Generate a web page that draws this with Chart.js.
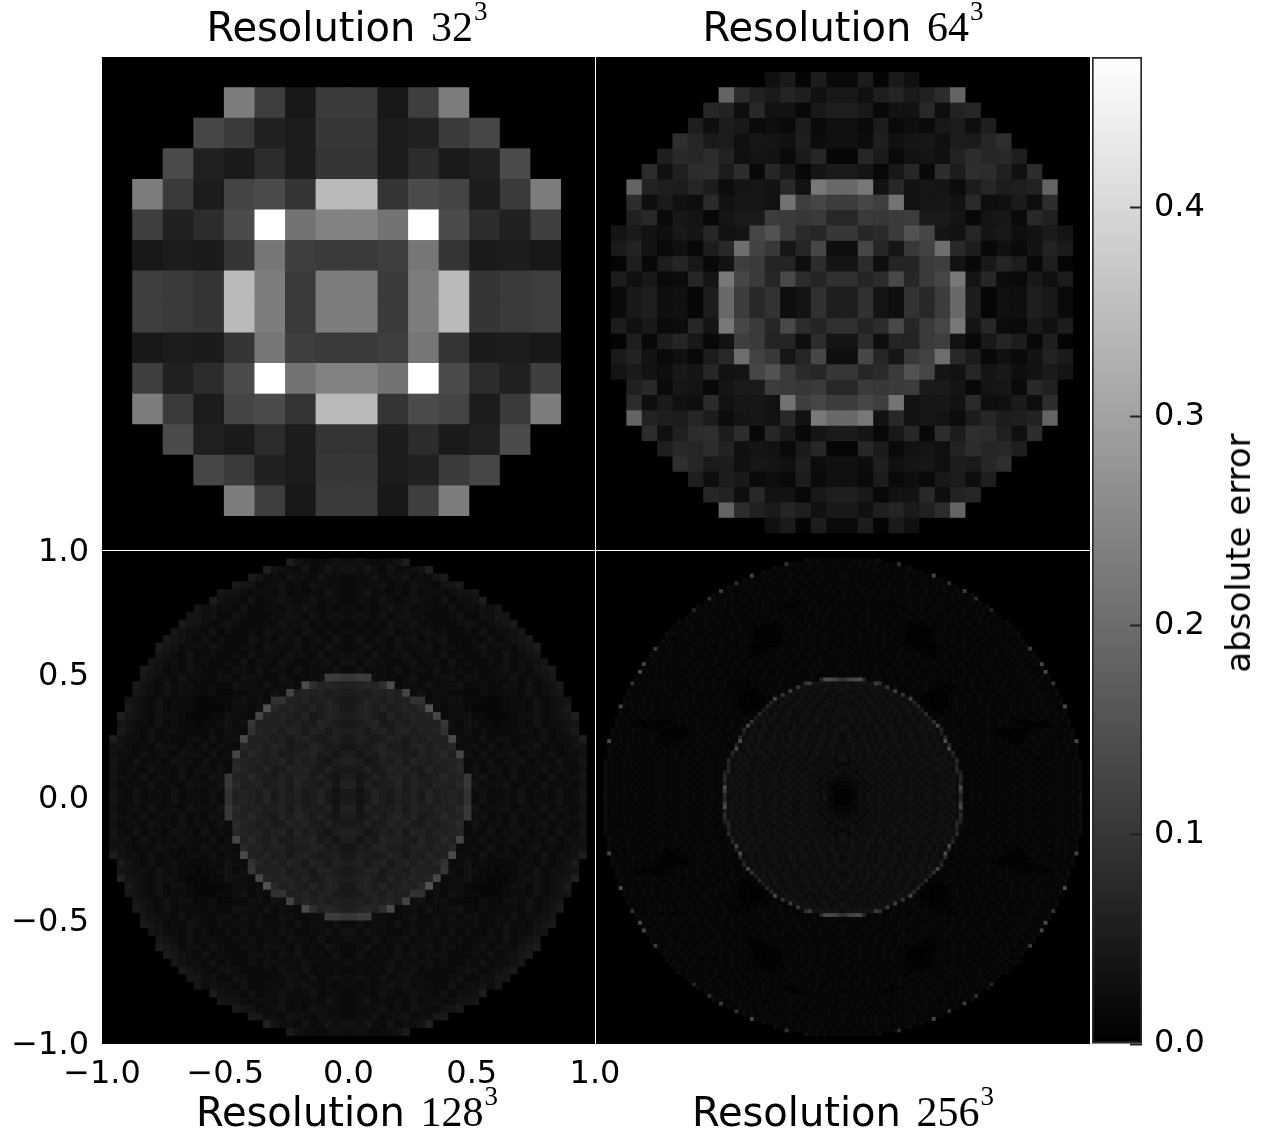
<!DOCTYPE html>
<html>
<head>
<meta charset="utf-8">
<title>Absolute error by resolution</title>
<script src="https://cdn.jsdelivr.net/npm/chart.js@4"></script>
<style>
html, body { margin: 0; padding: 0; background: #fff; }
#figure { position: relative; width: 1263px; height: 1138px; overflow: hidden; filter: blur(0.6px); }
#figure canvas { position: absolute; }
.res { position: absolute; transform: translateX(-50%); font: 40px/1 "DejaVu Sans"; white-space: nowrap; color: #000; }
.res .num { font-family: "Liberation Serif"; font-size: 42px; margin-left: 3px; }
.res sup { font: 27px/1 "Liberation Serif"; position: relative; top: -7px; vertical-align: super; margin-left: 1px; }
#barLabel { position: absolute; left: 1238px; top: 553px; transform: translate(-50%, -50%) rotate(-90deg); font: 34px/1 "DejaVu Sans"; white-space: nowrap; }
</style>
</head>
<body>
<div id="figure">
  <canvas id="panel32" width="493" height="493" style="left:102px;top:57px"></canvas>
  <canvas id="panel64" width="494" height="493" style="left:596px;top:57px"></canvas>
  <canvas id="panel128" width="640" height="618" style="left:0;top:520px"></canvas>
  <canvas id="panel256" width="494" height="493" style="left:596px;top:551px"></canvas>
  <canvas id="colorbar" width="171" height="1020" style="left:1092px;top:40px"></canvas>
  <div class="res" style="left:347px;top:5px">Resolution <span class="num">32</span><sup>3</sup></div>
  <div class="res" style="left:843px;top:5px">Resolution <span class="num">64</span><sup>3</sup></div>
  <div class="res" style="left:347px;top:1090px">Resolution <span class="num">128</span><sup>3</sup></div>
  <div class="res" style="left:843px;top:1090px">Resolution <span class="num">256</span><sup>3</sup></div>
  <div id="barLabel">absolute error</div>
</div>
<script>
// colour scale
const errorMax = 0.472;
const barTicks = [0, 0.1, 0.2, 0.3, 0.4];
const axisTicks = [-1, -0.5, 0, 0.5, 1];

// Grey levels, top left quadrant only (the images mirror both ways).
const res32Grey = [
    [0, 0, 0, 0, 0, 0, 0, 0],
    [0, 0, 0, 0, 125, 62, 24, 58],
    [0, 0, 0, 70, 58, 33, 28, 55],
    [0, 0, 75, 32, 26, 44, 28, 52],
    [0, 125, 58, 28, 68, 75, 52, 185],
    [0, 62, 33, 44, 75, 255, 115, 130],
    [0, 24, 28, 27, 52, 118, 62, 58],
    [0, 62, 58, 52, 185, 125, 58, 125]
];

const res64Grey = [
    [0, 0, 0, 0, 0, 0, 0, 0, 0, 0, 0, 0, 0, 0, 0, 0],
    [0, 0, 0, 0, 0, 0, 0, 0, 0, 0, 0, 16, 26, 5, 28, 10],
    [0, 0, 0, 0, 0, 0, 0, 0, 100, 44, 32, 26, 36, 30, 16, 24],
    [0, 0, 0, 0, 0, 0, 0, 38, 34, 14, 40, 18, 18, 8, 24, 30],
    [0, 0, 0, 0, 0, 0, 30, 14, 28, 24, 10, 14, 10, 28, 10, 16],
    [0, 0, 0, 0, 0, 46, 38, 26, 28, 16, 22, 20, 16, 30, 12, 16],
    [0, 0, 0, 0, 30, 40, 38, 44, 34, 16, 20, 18, 10, 26, 38, 6],
    [0, 0, 0, 44, 16, 32, 44, 46, 28, 44, 8, 38, 24, 8, 20, 26],
    [0, 0, 100, 34, 30, 28, 38, 28, 12, 20, 22, 18, 40, 18, 120, 105],
    [0, 0, 44, 14, 26, 16, 14, 42, 18, 22, 22, 18, 115, 62, 70, 60],
    [0, 0, 32, 40, 10, 22, 20, 8, 20, 26, 26, 60, 58, 55, 58, 40],
    [0, 20, 26, 18, 14, 24, 20, 38, 18, 20, 70, 82, 58, 42, 38, 55],
    [0, 26, 34, 18, 10, 16, 8, 28, 40, 110, 66, 56, 22, 38, 70, 14],
    [0, 5, 30, 8, 28, 36, 24, 8, 18, 62, 58, 36, 36, 14, 44, 20],
    [0, 28, 16, 24, 10, 12, 38, 20, 120, 70, 58, 38, 72, 44, 36, 48],
    [0, 10, 24, 30, 14, 16, 6, 28, 105, 60, 40, 50, 14, 20, 48, 30]
];

// Finer images: one base-36 digit per cell, rows run from the disc edge to the centre line.
const res128Levels = [
    "",
    "85433454",
    "95443534645",
    "7644354435443",
    "765344534354443",
    "65543443534343543",
    "854435344543453443",
    "64544353344354543434",
    "664533543334454353444",
    "7654345433343544534343",
    "65443534334354443543434",
    "765435343335443545344353",
    "8653443543344354435343543",
    "6543534433435344354435344",
    "65443534334353443543344535",
    "765343543343443534435344353",
    "654435343344354433543344hhf",
    "7543534433433544353443ldaba9",
    "65435344334223344354j9a9a898",
    "6543534432223345343ee99a89a87",
    "754353443222234434nb9a98a8a97",
    "965435443222335443ka9a98a78a98",
    "65443534332334534f999a8987a987",
    "75435344333343543ea9a8a97a9798",
    "85443534334435344l99a8979a87897",
    "55434354434353443b9a8a9788a9786",
    "5443534435443534k9b98a7899a7868",
    "6435344354435343ba9a89a7a897689",
    "5344354435344353ca98a78a9a87977",
    "644353443534354ga9b987a8a979768",
    "534435344354435gb99a89a7a887969",
    "643534435344353e9a98a7a8978a757"
];

const res256Levels = [
    "", "",
    "5323232323",
    "g323223232 32322",
    "4323223233 22322232",
    "4232322323 2232232322 3",
    "n232232322 3223223232 2323",
    "3232232323 2232232322 323223",
    "g232322322 3223232232 23223232",
    "3223232232 3223223232 2322323223",
    "k232232322 3223232232 2322322323 22",
    "4232232322 3232232322 3223223232 2323",
    "g322323223 2232322322 3223232232 23223",
    "3232232322 3223232232 2321122232 232232",
    "4232232322 3223222322 2321112223 23223232",
    "c232322322 3223223232 2322322322 323223223",
    "3223232232 2323223222 3222322322 3223232232",
    "3232232322 3223222322 3223223232 2322323223 2",
    "4232232322 3223232232 2322312223 2223223232 232",
    "3223232232 2322322322 2221111222 3223232232 2322",
    "3232232322 3223223232 2211111122 3223223232 23223",
    "4232232322 3223222322 3221110111 2232232232 232232",
    "3223232232 2322322322 3221101111 2223232232 232322",
    "4232232322 3223232232 2322110111 1222323223 2232232",
    "3232232322 3223223232 2322110111 1222322322 32232322",
    "k322323223 2232322322 3223211111 2223223232 232232232",
    "3232232322 3223223232 2322321112 2223232232 2322322323",
    "4223232232 2322322322 3223221222 3223232232 2322322232",
    "3232232322 3223223232 2322322322 3223232232 2322322322 3",
    "n232232322 3223232232 2322322322 3223223232 2322323223 23",
    "3223232232 2322322322 3223232232 2322322322 3223223232 23",
    "p232232322 3223232232 2322322322 3223223232 2322323223 232",
    "3232232322 3223232232 2232232322 3223223232 2322323223 2322",
    "3223232232 2322322322 3223222322 3223232232 23223232 cppnmg",
    "h232232322 3223232232 2322322122 1223232232 23223 gk76767565",
    "3232232322 3223223232 2322321112 2223223232 232 i65656465565",
    "4232232322 3223232232 2322322322 1111222322 32 k5656454565446",
    "3223232232 2322322322 3223222221 1101122232 h656454654654654",
    "3232232322 3223223232 2322322322 111011122 n64654564546545645",
    "4232232322 3223232232 2322322322 11101112 c6465456454654 56454",
    "p323223232 2322322322 3223223232 21110112 c646545645 4654564546",
    "3223232232 2322322322 3223223232 2211122 9646545645 4654564546 5",
    "4232232322 3223232232 2322322322 321222 e564654564 5465456454 65",
    "3232232322 3223223232 2322322322 322322 9564654564 5465456454 654",
    "4223221122 1111223232 2322322322 32232 g656465456 4546545645 4654",
    "3223211111 1112223232 2322322322 3223 n564654564 5465456454 65456",
    "3232232322 2111101111 2232322322 3223 c456465456 4546545645 465456",
    "4223232232 2321110111 2223223232 2322 9564654564 5465456454 654564",
    "3232232322 3211101112 2232322322 322 e456465456 4546545645 4654564",
    "n223232232 2322111122 3223223232 2322 p456465456 4546545645 4654564",
    "3232232322 3223212223 2232322322 322 c456465456 4546545645 46545645",
    "4223232232 2322322322 3223223232 232 n456465456 4546545645 46545644",
    "3232232322 3223232232 2322322322 32 c564564654 5645465456 456454645",
    "4223232232 2322322322 3223223232 23 9456465456 4546545645 465454646",
    "3232232322 3223232232 2322322322 32 e456465456 4546545645 4654546436",
    "4223232232 2322322322 3223223232 23 9564654564 5465456454 6545454543",
    "3232232322 3223232232 2322322322 32 c456465456 4546545645 4654544635",
    "4223232232 2322322322 3223223232 2 9c46465456 4546545645 4654546346 4",
    "3232232322 3223232232 2322322322 3 c564654564 5465456454 6545463544 4",
    "4223232232 2322322322 3223223232 2 e456465456 4546545645 4654636443 3",
    "3232232322 3223232232 2322322322 3 9564654564 5465456454 6546354332 2",
    "4223232232 2322322322 3223223232 2 p456465456 4546545645 4654635322 2",
    "3232232322 3223232232 2322322322 3 k564654564 5465456454 6546354321 1",
    "5223232232 2322322322 3223223232 2 c456465456 4546545645 4654636321 1"
];

function levelsToGrey(rows, half, greyPerDigit) {
    return rows.map(function (row) {
        const digits = row.replace(/\s/g, '').padStart(half, '0').slice(-half);
        return Array.from(digits, function (d) { return parseInt(d, 36) * greyPerDigit; });
    });
}

// the images stop one sample short of the right/bottom edge: span is a little under 2
function imageSpan(half) {
    return 2 - 1 / (8 * half);
}

// mirror the quadrant into x/y cells with the value as absolute error
function makeCells(quadrant) {
    const half = quadrant.length;
    const cellSize = imageSpan(half) / (2 * half);
    const last = 2 * half - 1;
    const cells = [];
    quadrant.forEach(function (row, r) {
        row.forEach(function (grey, c) {
            if (!grey) return;
            const v = grey / 255 * errorMax;
            [c, last - c].forEach(function (col) {
                [r, last - r].forEach(function (line) {
                    cells.push({ x: -1 + (col + 0.5) * cellSize, y: 1 - (line + 0.5) * cellSize, v: v });
                });
            });
        });
    });
    return cells;
}

function tickText(v) {
    return (v < 0 ? '\u2212' : '') + Math.abs(v).toFixed(1);
}

const blackArea = {
    id: 'blackArea',
    beforeDatasetsDraw: function (chart) {
        const a = chart.chartArea;
        chart.ctx.save();
        chart.ctx.fillStyle = '#000';
        chart.ctx.fillRect(a.left, a.top, a.right - a.left, a.bottom - a.top);
        chart.ctx.restore();
    }
};

function makePanel(id, quadrant, withAxes) {
    const half = quadrant.length;
    const tickFont = { family: 'DejaVu Sans', size: 32 };
    return new Chart(document.getElementById(id), {
        type: 'scatter',
        data: {
            datasets: [{
                data: makeCells(quadrant),
                pointStyle: 'rect',
                borderWidth: 0,
                pointBorderWidth: 0,
                pointBackgroundColor: function (ctx) {
                    if (!ctx.raw) return '#000';
                    const g = Math.round(ctx.raw.v / errorMax * 255);
                    return 'rgb(' + g + ',' + g + ',' + g + ')';
                },
                // rect side is radius * sqrt(2), a bit oversized so no seams show between cells
                pointRadius: function (ctx) {
                    const area = ctx.chart.chartArea;
                    if (!area) return 1;
                    const cellPx = area.width / 2 * imageSpan(half) / (2 * half);
                    return (cellPx + 0.8) * Math.SQRT1_2;
                }
            }]
        },
        options: {
            responsive: false,
            animation: false,
            events: [],
            layout: { autoPadding: false, padding: withAxes ? { top: 31, right: 45 } : 0 },
            plugins: { legend: { display: false }, tooltip: { enabled: false } },
            scales: {
                x: {
                    type: 'linear', min: -1, max: 1, display: withAxes,
                    grid: { display: false }, border: { display: false },
                    afterBuildTicks: function (s) { s.ticks = axisTicks.map(function (v) { return { value: v }; }); },
                    afterFit: function (s) { if (withAxes) s.height = 94; },
                    ticks: { font: tickFont, color: '#000', padding: 3, maxRotation: 0, autoSkip: false, callback: tickText }
                },
                y: {
                    type: 'linear', min: -1, max: 1, display: withAxes,
                    grid: { display: false }, border: { display: false },
                    afterBuildTicks: function (s) { s.ticks = axisTicks.map(function (v) { return { value: v }; }); },
                    afterFit: function (s) { if (withAxes) s.width = 102; },
                    ticks: { font: tickFont, color: '#000', padding: 5, labelOffset: 2, autoSkip: false, callback: tickText }
                }
            }
        },
        plugins: [blackArea]
    });
}

makePanel('panel32', res32Grey, false);
makePanel('panel64', res64Grey, false);
makePanel('panel128', levelsToGrey(res128Levels, 32, 3.5), true);
makePanel('panel256', levelsToGrey(res256Levels, 64, 3), false);

// Colorbar
new Chart(document.getElementById('colorbar'), {
    type: 'bar',
    data: {
        labels: ['absolute error'],
        datasets: [{
            data: [[0, errorMax]],
            categoryPercentage: 1,
            barPercentage: 1,
            borderWidth: 2,
            borderSkipped: false,
            borderColor: '#2a2a2a',
            backgroundColor: function (ctx) {
                const a = ctx.chart.chartArea;
                if (!a) return '#888';
                const g = ctx.chart.ctx.createLinearGradient(0, a.bottom, 0, a.top);
                g.addColorStop(0, '#000');
                g.addColorStop(1, '#fff');
                return g;
            }
        }]
    },
    options: {
        responsive: false,
        animation: false,
        events: [],
        layout: { autoPadding: false, padding: { top: 17, bottom: 16 } },
        plugins: { legend: { display: false }, tooltip: { enabled: false } },
        scales: {
            x: { display: false },
            y: {
                position: 'right', min: 0, max: errorMax,
                border: { display: false },
                grid: { drawOnChartArea: false, tickLength: -12, tickColor: '#222', tickWidth: 2, z: 1 },
                afterBuildTicks: function (s) { s.ticks = barTicks.map(function (v) { return { value: v }; }); },
                afterFit: function (s) {
                    s.width = 121;
                    // the label padding would otherwise shrink the bar top and bottom
                    s.paddingTop = 0;
                    s.paddingBottom = 0;
                },
                ticks: {
                    font: { family: 'DejaVu Sans', size: 32 }, color: '#000', padding: 24, autoSkip: false,
                    callback: function (v) { return v.toFixed(1); }
                }
            }
        }
    }
});
</script>
</body>
</html>
